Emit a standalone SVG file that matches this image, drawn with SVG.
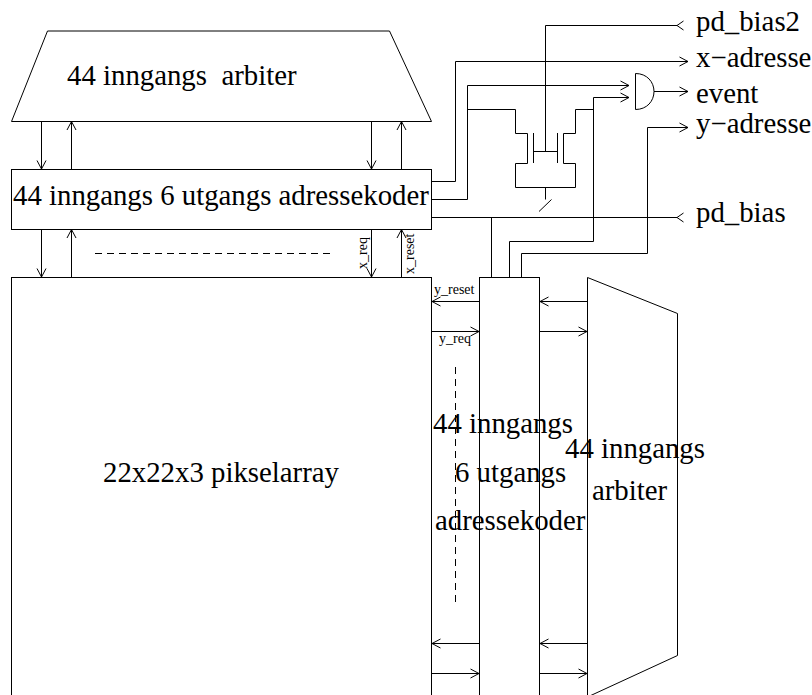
<svg xmlns="http://www.w3.org/2000/svg" width="812" height="695" viewBox="0 0 812 695">
<style>
.l{fill:none;stroke:#000;stroke-width:1;}
.t{font-family:"Liberation Serif","Times New Roman",serif;font-size:28.8px;fill:#000;white-space:pre;}
.s{font-family:"Liberation Serif","Times New Roman",serif;font-size:14px;fill:#000;}
.d{stroke-dasharray:7 5;}
</style>
<defs>
<marker id="o" markerUnits="userSpaceOnUse" markerWidth="12" markerHeight="14" refX="10" refY="6.5" orient="auto"><path d="M1.500 2L10 6.500L1.500 11" fill="none" stroke="#000"/></marker>
<marker id="r" markerUnits="userSpaceOnUse" markerWidth="12" markerHeight="14" refX="1.500" refY="6.500" orient="auto"><path d="M8 2L1.500 6.500L8 11" fill="none" stroke="#000"/></marker>
</defs>
<rect width="812" height="695" fill="#fff"/>
<g id="connectors">
<path class="l" marker-end="url(#o)" d="M41.500 121.500V169"/>
<path class="l" marker-end="url(#o)" d="M71.500 169.500V121.500"/>
<path class="l" marker-end="url(#o)" d="M371.500 121.500V169"/>
<path class="l" marker-end="url(#o)" d="M401.500 169.500V121.500"/>
<path class="l" marker-end="url(#o)" d="M41.500 229.500V277"/>
<path class="l" marker-end="url(#o)" d="M71.500 277.500V229.500"/>
<path class="l" marker-end="url(#o)" d="M371.500 229.500V277"/>
<path class="l" marker-end="url(#o)" d="M401.500 277.500V229.500"/>
<path class="l d" d="M95 253.500H331"/>
<path class="l d" d="M455.500 367V603"/>
<path class="l" marker-end="url(#o)" d="M479.500 301.500H432"/>
<path class="l" marker-end="url(#o)" d="M431.500 331.500H479"/>
<path class="l" marker-end="url(#o)" d="M587.500 301.500H540"/>
<path class="l" marker-end="url(#o)" d="M539.500 331.500H587"/>
<path class="l" marker-end="url(#o)" d="M479.500 643.500H432"/>
<path class="l" marker-end="url(#o)" d="M431.500 673.500H479"/>
<path class="l" marker-end="url(#o)" d="M587.500 643.500H540"/>
<path class="l" marker-end="url(#o)" d="M539.500 673.500H587"/>
<path class="l" marker-end="url(#r)" d="M545.500 151.500V25.500H677"/>
<path class="l" marker-end="url(#o)" d="M431.500 181.500H455.500V61.500H688"/>
<path class="l" marker-end="url(#o)" d="M431.500 199.500H467.500V85.500H629"/>
<path class="l" d="M467.500 109.500H515.500V133.500H527.500V163.500H515.500V187.500H575.500V163.500H563.500V133.500H575.500V109.500H593.500"/>
<path class="l" marker-end="url(#o)" d="M509.500 277.500V241.500H593.500V97.500H629"/>
<path class="l" marker-end="url(#o)" d="M521.500 277.500V253.500H647.500V127.500H688"/>
<path class="l" marker-end="url(#r)" d="M431.500 217.500H677"/>
<path class="l" d="M491.500 217.500V277.500"/>
<path class="l" marker-end="url(#o)" d="M654 91.500H688"/>
<path class="l" d="M533.500 133V163M557.500 133V163M533.500 151.500H557.500M545.500 187.500V199.500M539 211.500L551.500 199.500"/>
</g>
<g id="arbiter-top"><path class="l" d="M11.500 121.500L47.500 31H389.500L431.500 121.500Z"/><text class="t" x="67" y="85">44 inngangs  arbiter</text></g>
<g id="encoder-top"><rect class="l" x="11.500" y="169.500" width="420" height="60"/><text class="t" x="13" y="205">44 inngangs 6 utgangs adressekoder</text></g>
<g id="pixel-array"><rect class="l" x="11.500" y="277.500" width="420" height="430"/><text class="t" x="103" y="482">22x22x3 pikselarray</text></g>
<g id="encoder-right"><rect class="l" x="479.500" y="277.500" width="60" height="430"/>
<text class="t" x="433" y="433">44 inngangs</text><text class="t" x="455" y="482">6 utgangs</text><text class="t" x="435" y="530">adressekoder</text></g>
<g id="arbiter-right"><path class="l" d="M587.500 277.500L677.500 313.500V655.500L587.500 697V277.500Z"/>
<text class="t" x="565" y="458">44 inngangs</text><text class="t" x="592" y="500">arbiter</text></g>
<g id="and-gate"><path class="l" d="M635.500 73.500V109.500C647 109.500 654 101 654 91.500C654 82 647 73.500 635.500 73.500Z"/></g>
<g id="labels">
<text class="t" x="696" y="31">pd_bias2</text>
<text class="t" x="696" y="67">x−adresse</text>
<text class="t" x="696" y="103">event</text>
<text class="t" x="696" y="133">y−adresse</text>
<text class="t" x="696" y="222">pd_bias</text>
<text class="s" x="434" y="294">y_reset</text>
<text class="s" x="439" y="343">y_req</text>
<text class="s" transform="translate(367 269) rotate(-90)">x_req</text>
<text class="s" transform="translate(414 274) rotate(-90)">x_reset</text>
</g>
</svg>
